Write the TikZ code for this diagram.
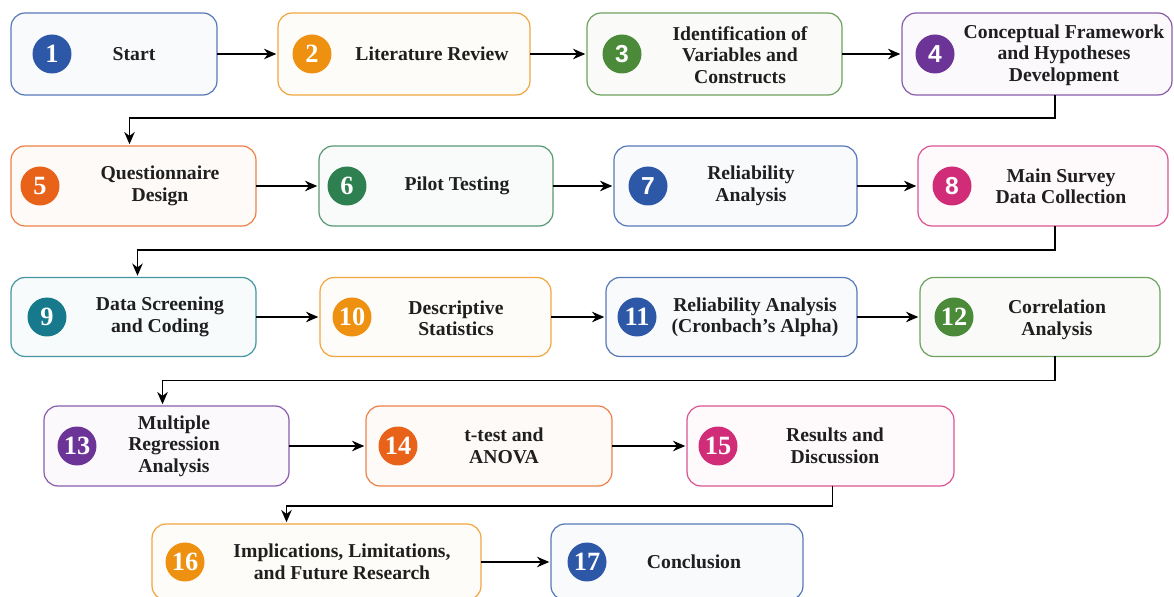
\documentclass[tikz,border=0pt]{standalone}
\usepackage{fontspec}
\setmainfont{Liberation Serif}
\newfontfamily\numsans{Liberation Sans}
\usepackage{xcolor}
\usepackage{tikz}
\usetikzlibrary{arrows.meta,calc}

\definecolor{stepblue}{HTML}{2D58A8}
\definecolor{steporange}{HTML}{EE9010}
\definecolor{stepgreen}{HTML}{4A8A38}
\definecolor{stepemerald}{HTML}{2E8050}
\definecolor{steppurple}{HTML}{6C3497}
\definecolor{stepred}{HTML}{E8621A}
\definecolor{steppink}{HTML}{D12C78}
\definecolor{stepteal}{HTML}{167A8C}

\tikzset{
  stepbox/.style={draw=#1!80, fill=#1!3, line width=0.7pt, rounded corners=0.28cm,
    inner sep=0pt, outer sep=0pt},
  badge/.style={circle, fill=#1, text=white, minimum size=0.78cm, inner sep=0pt,
    font=\fontsize{15}{15}\selectfont\bfseries},
  badgesf/.style={badge=#1, font=\numsans\fontsize{14}{14}\selectfont\bfseries},
  lbl/.style={align=center, text=black!88, font=\fontsize{11.2}{12.2}\selectfont\bfseries},
  flow/.style={-{Stealth[length=7pt,width=6pt]}, line width=0.9pt, shorten >=1pt}
}

\begin{document}
\begin{tikzpicture}[x=0.02cm, y=-0.02cm]
\useasboundingbox (0,0) rectangle (1174,597);

% row 1
\node[stepbox=stepblue, minimum width=4.12cm, minimum height=1.64cm]    (s1) at (114,54)    {};
\node[stepbox=steporange, minimum width=5.04cm, minimum height=1.64cm]  (s2) at (404,54)    {};
\node[stepbox=stepgreen, minimum width=5.1cm, minimum height=1.64cm]    (s3) at (714.5,54)  {};
\node[stepbox=steppurple, minimum width=5.4cm, minimum height=1.64cm]   (s4) at (1037,54)   {};
\node[badge=stepblue]      (n1) at (52,54)  {1};
\node[badge=steporange]    (n2) at (312,54) {2};
\node[badgesf=stepgreen]   (n3) at (622,54) {3};
\node[badgesf=steppurple]  (n4) at (935,54) {4};
\node[lbl] (t1) at (134,54)  {Start};
\node[lbl] (t2) at (432,54)  {Literature Review};
\node[lbl] (t3) at (740,55)  {Identification of\\Variables and\\Constructs};
\node[lbl] (t4) at (1064,55) {Conceptual Framework\\and Hypotheses\\Development};

% row 2
\node[stepbox=stepred, minimum width=4.9cm, minimum height=1.6cm]      (s5) at (133.5,186) {};
\node[stepbox=stepemerald, minimum width=4.68cm, minimum height=1.6cm] (s6) at (436,186)   {};
\node[stepbox=stepblue, minimum width=4.86cm, minimum height=1.6cm]    (s7) at (735.5,186) {};
\node[stepbox=steppink, minimum width=5.0cm, minimum height=1.6cm]     (s8) at (1043,186)  {};
\node[badge=stepred]       (n5) at (40,186)  {5};
\node[badge=stepemerald]   (n6) at (347,186) {6};
\node[badgesf=stepblue]    (n7) at (648,186) {7};
\node[badgesf=steppink]    (n8) at (952,186) {8};
\node[lbl] (t5) at (160,186)  {Questionnaire\\Design};
\node[lbl] (t6) at (457,186)  {Pilot Testing};
\node[lbl] (t7) at (751,186)  {Reliability\\Analysis};
\node[lbl] (t8) at (1061,186) {Main Survey\\Data Collection};

% row 3
\node[stepbox=stepteal, minimum width=4.9cm, minimum height=1.58cm]    (s9)  at (133.5,317) {};
\node[stepbox=steporange, minimum width=4.62cm, minimum height=1.58cm] (s10) at (435.5,317) {};
\node[stepbox=stepblue, minimum width=5.02cm, minimum height=1.58cm]   (s11) at (731.5,317) {};
\node[stepbox=stepgreen, minimum width=4.8cm, minimum height=1.58cm]   (s12) at (1040,317)  {};
\node[badge=stepteal]      (n9)  at (47,317)  {9};
\node[badge=steporange]    (n10) at (352,317) {10};
\node[badge=stepblue]      (n11) at (637,317) {11};
\node[badge=stepgreen]     (n12) at (954,317) {12};
\node[lbl] (t9)  at (160,317)  {Data Screening\\and Coding};
\node[lbl] (t10) at (456,318)  {Descriptive\\Statistics};
\node[lbl] (t11) at (755,317)  {Reliability Analysis\\(Cronbach's Alpha)};
\node[lbl] (t12) at (1057,320) {Correlation\\Analysis};

% row 4
\node[stepbox=steppurple, minimum width=4.9cm, minimum height=1.6cm] (s13) at (166.5,446) {};
\node[stepbox=stepred, minimum width=4.92cm, minimum height=1.6cm]   (s14) at (489,446)   {};
\node[stepbox=steppink, minimum width=5.34cm, minimum height=1.6cm]  (s15) at (820.5,446) {};
\node[badge=steppurple]    (n13) at (77,446)  {13};
\node[badge=stepred]       (n14) at (398,446) {14};
\node[badge=steppink]      (n15) at (718,446) {15};
\node[lbl] (t13) at (174,446) {Multiple\\Regression\\Analysis};
\node[lbl] (t14) at (504,446) {t-test and\\ANOVA};
\node[lbl] (t15) at (835,446) {Results and\\Discussion};

% row 5
\node[stepbox=steporange, minimum width=6.58cm, minimum height=1.52cm] (s16) at (316.5,562) {};
\node[stepbox=stepblue, minimum width=5.04cm, minimum height=1.52cm]   (s17) at (677,562)   {};
\node[badge=steporange]    (n16) at (185,562) {16};
\node[badge=stepblue]      (n17) at (587,562) {17};
\node[lbl] (t16) at (342,562) {Implications, Limitations,\\and Future Research};
\node[lbl] (t17) at (694,562) {Conclusion};

% arrows along each row
\draw[flow] (s1.east) -- (s2.west);
\draw[flow] (s2.east) -- (s3.west);
\draw[flow] (s3.east) -- (s4.west);
\draw[flow] (s5.east) -- (s6.west);
\draw[flow] (s6.east) -- (s7.west);
\draw[flow] (s7.east) -- (s8.west);
\draw[flow] (s9.east) -- (s10.west);
\draw[flow] (s10.east) -- (s11.west);
\draw[flow] (s11.east) -- (s12.west);
\draw[flow] (s13.east) -- (s14.west);
\draw[flow] (s14.east) -- (s15.west);
\draw[flow] (s16.east) -- (s17.west);

% wrap to the next row
\draw[flow] ($(s4.south)+(18,0)$) -- ++(0,23) -| ($(s5.north)+(-4,0)$);
\draw[flow] ($(s8.south)+(12,0)$) -- ++(0,24) -| ($(s9.north)+(4,0)$);
\draw[flow] ($(s12.south)+(15,0)$) -- ++(0,24) -| ($(s13.north)+(-4,0)$);
\draw[flow] ($(s15.south)+(12,0)$) -- ++(0,20) -| ($(s16.north)+(-30,0)$);
\end{tikzpicture}
\end{document}
